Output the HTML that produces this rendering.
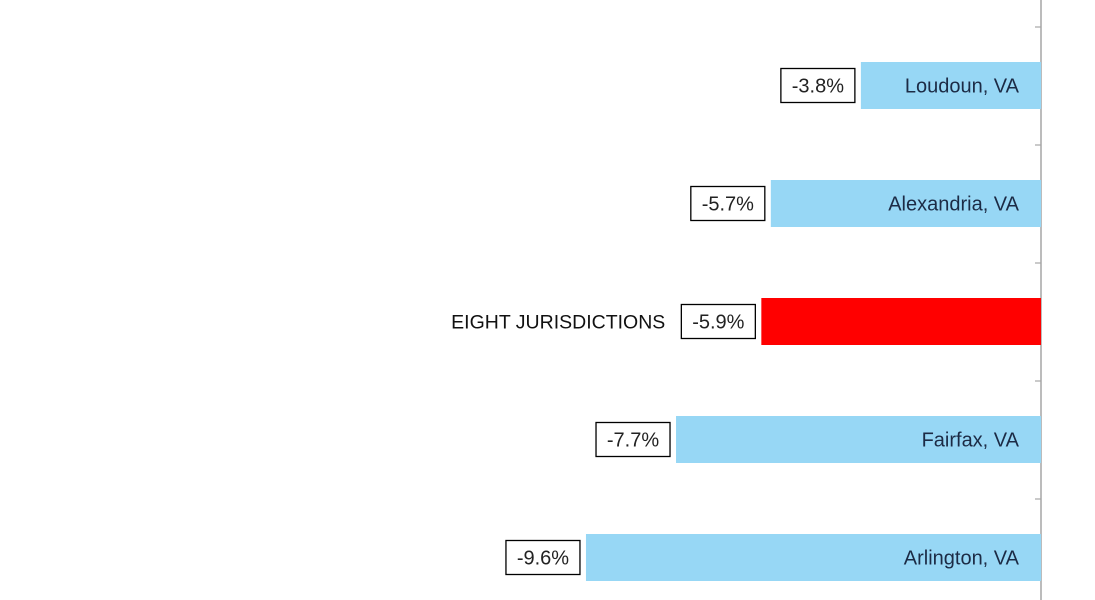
<!DOCTYPE html>
<html><head><meta charset="utf-8"><style>
html,body{margin:0;padding:0;background:#fff;width:1095px;height:600px;overflow:hidden}
svg text{font-family:"Liberation Sans",sans-serif}
</style></head><body>
<svg id="chart" width="1095" height="600" xmlns="http://www.w3.org/2000/svg"></svg>
<script>
const categories = ["Loudoun, VA","Alexandria, VA","EIGHT JURISDICTIONS","Fairfax, VA","Arlington, VA"];
const values = [-3.8,-5.7,-5.9,-7.7,-9.6];
const highlight = [false,false,true,false,false];
const labels = ["-3.8%","-5.7%","-5.9%","-7.7%","-9.6%"];

const NS="http://www.w3.org/2000/svg";
const svg=document.getElementById('chart');
const axisX=1041, pxPer=47.4, band=118, firstTop=27, barH=47;
const xScale=v=>axisX+v*pxPer;
const yBand=i=>firstTop+i*band;
function mk(tag,attrs){const e=document.createElementNS(NS,tag);for(const k in attrs)e.setAttribute(k,attrs[k]);svg.appendChild(e);return e;}

const ax=mk('line',{x1:axisX,y1:0,x2:axisX,y2:600,stroke:'#a6a6a6','stroke-width':1.5});


for(let i=-1;i<=categories.length;i++){
  const t=mk('line',{x1:axisX-6,y1:yBand(i),x2:axisX,y2:yBand(i),stroke:'#a6a6a6','stroke-width':1.2});
  
  
}
categories.forEach((c,i)=>{
  const cy=yBand(i)+band/2-0.5;
  const x0=xScale(values[i]);
  const r=mk('rect',{x:x0,y:cy-barH/2,width:axisX-x0,height:barH,fill:highlight[i]?'#ff0000':'#97d7f5'});
  
  
  const bw=74, bx=x0-6-bw;
  const b=mk('rect',{x:bx,y:cy-17,width:bw,height:34,fill:'#fff',stroke:'#000','stroke-width':1.3});
  
  
  const vt=mk('text',{x:bx+bw/2,y:cy+7,'text-anchor':'middle','font-size':20,fill:'#222'});
  vt.textContent=labels[i];
  
  
  let ct;
  if(highlight[i]){
    ct=mk('text',{x:bx-16,y:cy+7,'text-anchor':'end','font-size':19.5,fill:'#111'});
  }else{
    ct=mk('text',{x:axisX-22,y:cy+7,'text-anchor':'end','font-size':20,fill:'#1c2b45'});
  }
  ct.textContent=c;
  
  
});
</script>
</body></html>
